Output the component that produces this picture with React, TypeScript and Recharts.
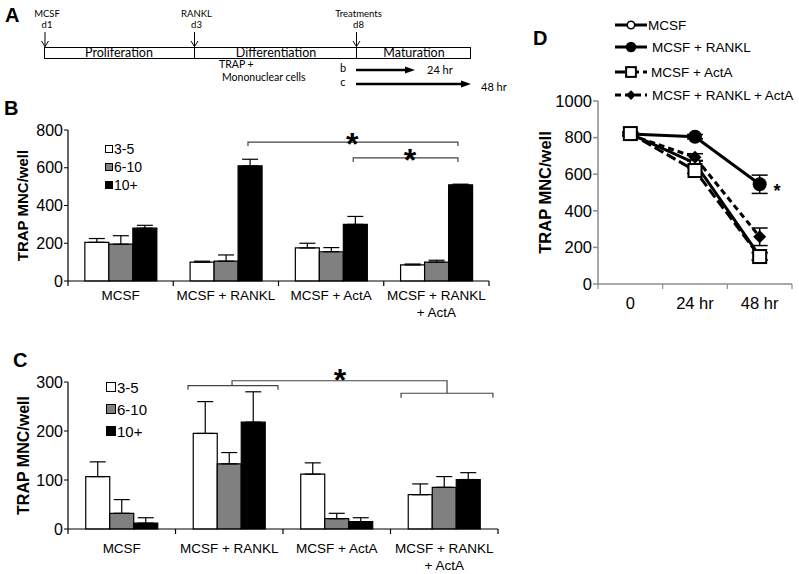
import React from "react";
import { Bar, BarChart, ErrorBar, Legend, Line, LineChart, XAxis, YAxis } from "recharts";

const ARIAL = "'Liberation Sans', Arial, Helvetica, sans-serif";
const CALIBRI = "Lato, 'Open Sans', sans-serif";

// shared by panels B and C
const treatments = ["MCSF", "MCSF + RANKL", "MCSF + ActA", "MCSF + RANKL\n+ ActA"];
const sizeBins = ["3-5", "6-10", "10+"];
const binFills = ["#ffffff", "#808080", "#000000"];

// panel B
const b35 = [205, 100, 175, 85];
const b610 = [195, 105, 155, 100];
const b10 = [280, 610, 300, 510];
const b35Err = [20, 5, 25, 5];
const b610Err = [45, 33, 22, 10];
const b10Err = [15, 35, 42, 3];
const bTicks = [0, 200, 400, 600, 800];

// panel C
const c35 = [107, 195, 112, 70];
const c610 = [32, 133, 21, 85];
const c10 = [12, 218, 15, 101];
const c35Err = [30, 65, 23, 22];
const c610Err = [28, 23, 11, 22];
const c10Err = [11, 62, 8, 14];
const cTicks = [0, 100, 200, 300];

// panel D
const timepoints = ["0", "24 hr", "48 hr"];
const dMcsf = [820, 660, 152];
const dRankl = [820, 805, 545];
const dActa = [822, 620, 150];
const dRanklActa = [815, 692, 258];
const dMcsfErr = [8, 15, 20];
const dRanklErr = [8, 12, 50];
const dActaErr = [8, 15, 20];
const dRanklActaErr = [8, 20, 48];
const dTicks = [0, 200, 400, 600, 800, 1000];

// significance marks: x in category units (0..n across the plot), y in data units
const bBrackets = [
  [[1.71, 715], [1.71, 736], [3.705, 736], [3.705, 715]],
  [[2.71, 630], [2.71, 652], [3.705, 652], [3.705, 630]],
];
const bStars = [[2.7, 765], [3.25, 680]];
const cBrackets = [
  [[1.116, 284], [1.116, 292.5], [1.953, 292.5], [1.953, 284]],
  [[3.098, 268], [3.098, 277], [3.953, 277], [3.953, 268]],
  [[1.526, 292.5], [1.526, 302.6], [3.526, 302.6], [3.526, 277]],
];
const cStars = [[2.53, 319]];
const dStars = [[2.77, 530]];

const groupRows = (a: number[], b: number[], c: number[], ae: number[], be: number[], ce: number[]) =>
  treatments.map((t, i) => ({
    t,
    s: a[i],
    m: b[i],
    l: c[i],
    sErr: [0, ae[i]],
    mErr: [0, be[i]],
    lErr: [0, ce[i]],
  }));

const bData = groupRows(b35, b610, b10, b35Err, b610Err, b10Err);
const cData = groupRows(c35, c610, c10, c35Err, c610Err, c10Err);

const dData = timepoints.map((t, i) => ({
  t,
  mcsf: dMcsf[i],
  rankl: dRankl[i],
  acta: dActa[i],
  ra: dRanklActa[i],
  mcsfE: dMcsfErr[i],
  ranklE: dRanklErr[i],
  actaE: dActaErr[i],
  raE: dRanklActaErr[i],
}));

const dSeries = [
  { key: "mcsf", err: "mcsfE", name: "MCSF", dash: undefined, marker: "circleOpen" },
  { key: "rankl", err: "ranklE", name: "MCSF + RANKL", dash: undefined, marker: "circleFilled" },
  { key: "acta", err: "actaE", name: "MCSF + ActA", dash: "10 4", marker: "squareOpen" },
  { key: "ra", err: "raE", name: "MCSF + RANKL + ActA", dash: "6 4", marker: "diamond" },
];
const dDrawOrder = ["mcsf", "rankl", "ra", "acta"];

// category label plus Excel-style tick marks on the category boundaries
function GroupTick(props: any) {
  const { x, y, payload, index, fs, lineGap, band, count, tickMargin, tickColor } = props;
  const axisY = y - tickMargin;
  const lines = String(payload.value).split("\n");
  return (
    <g>
      <line x1={x - band / 2} x2={x - band / 2} y1={axisY} y2={axisY + 5} stroke={tickColor} strokeWidth={1.2} />
      {index === count - 1 && (
        <line x1={x + band / 2} x2={x + band / 2} y1={axisY} y2={axisY + 5} stroke={tickColor} strokeWidth={1.2} />
      )}
      <text x={x} y={y} textAnchor="middle" fontFamily={ARIAL} fontSize={fs} fill="#000">
        {lines.map((ln, i) => (
          <tspan key={i} x={x} dy={i === 0 ? fs * 0.72 : lineGap}>
            {ln}
          </tspan>
        ))}
      </text>
    </g>
  );
}

function BinLegend({ box, rowH, fs }: { box: number; rowH: number; fs: number }) {
  return (
    <div style={{ fontFamily: ARIAL, fontSize: fs, color: "#000" }}>
      {sizeBins.map((label, i) => (
        <div key={label} style={{ display: "flex", alignItems: "center", height: rowH }}>
          <span
            style={{
              display: "inline-block",
              width: box,
              height: box,
              boxSizing: "border-box",
              border: "1px solid #000",
              background: binFills[i],
              marginRight: 1,
            }}
          />
          <span>{label}</span>
        </div>
      ))}
    </div>
  );
}

function Marker({ cx, cy, kind, k = 1 }: { cx: number; cy: number; kind: string; k?: number }) {
  if (cx == null || cy == null) return null;
  if (kind === "circleOpen")
    return <circle cx={cx} cy={cy} r={5 * k} fill="#fff" stroke="#000" strokeWidth={1.6} />;
  if (kind === "circleFilled") return <circle cx={cx} cy={cy} r={7 * k} fill="#000" />;
  if (kind === "squareOpen") {
    const h = 6.5 * k;
    return <rect x={cx - h} y={cy - h} width={h * 2} height={h * 2} fill="#fff" stroke="#000" strokeWidth={2} />;
  }
  const d = 6.5 * k;
  return <polygon points={`${cx},${cy - d} ${cx + d},${cy} ${cx},${cy + d} ${cx - d},${cy}`} fill="#000" />;
}

// overlay for brackets and asterisks, mapped from the chart's plot box and domain
function Annotations({ w, h, box, n, max, brackets, stars, starFs }: any) {
  const px = (v: number[]) => [box.x + (v[0] / n) * box.w, box.y + box.h - (v[1] / max) * box.h];
  return (
    <svg width={w} height={h} style={{ position: "absolute", left: 0, top: 0, pointerEvents: "none", overflow: "visible" }}>
      {brackets.map((p: number[][], i: number) => (
        <polyline
          key={i}
          points={p.map((v) => px(v).join(",")).join(" ")}
          fill="none"
          stroke="#444"
          strokeWidth={1.2}
        />
      ))}
      {stars.map((s: number[], i: number) => {
        const [cx, cy] = px(s);
        return (
          <text key={i} x={cx} y={cy + starFs * 0.58} textAnchor="middle" fontFamily={ARIAL} fontWeight="bold" fontSize={starFs} fill="#000">
            *
          </text>
        );
      })}
    </svg>
  );
}

function yLabel(fs: number, offset: number) {
  return {
    value: "TRAP MNC/well",
    angle: -90,
    position: "insideLeft" as const,
    offset,
    style: { textAnchor: "middle", fontWeight: "bold", fontSize: fs, fontFamily: ARIAL, fill: "#000" },
  };
}

function GroupedBars({ data, width, height, margin, domain, ticks, xAxisH, tickMargin, gap, labelFs, legend, brackets, stars }: any) {
  const yW = 68;
  const box = { x: margin.left + yW, y: margin.top, w: width - margin.left - yW - margin.right, h: height - margin.top - xAxisH };
  const band = box.w / treatments.length;
  return (
    <div style={{ position: "relative", width, height }}>
      <BarChart width={width} height={height} data={data} margin={margin} barGap={0} barCategoryGap={gap}>
        <XAxis
          dataKey="t"
          height={xAxisH}
          axisLine={{ stroke: "#000", strokeWidth: 1.2 }}
          tickLine={false}
          tickSize={0}
          tickMargin={tickMargin}
          interval={0}
          tick={(p: any) => (
            <GroupTick {...p} fs={13.5} lineGap={17.5} band={band} count={treatments.length} tickMargin={tickMargin} tickColor="#000" />
          )}
        />
        <YAxis
          domain={domain}
          ticks={ticks}
          interval={0}
          width={yW}
          tickSize={4}
          tickMargin={1}
          axisLine={{ stroke: "#000", strokeWidth: 1.2 }}
          tickLine={{ stroke: "#000" }}
          tick={{ fontSize: 16, fill: "#000", fontFamily: ARIAL }}
          label={yLabel(labelFs, 23)}
        />
        {["s", "m", "l"].map((k, i) => (
          <Bar key={k} dataKey={k} fill={binFills[i]} stroke="#000" strokeWidth={1.2} isAnimationActive={false}>
            <ErrorBar dataKey={`${k}Err`} width={8} stroke="#000" strokeWidth={1.2} direction="y" />
          </Bar>
        ))}
        <Legend
          layout="vertical"
          align="center"
          verticalAlign="middle"
          wrapperStyle={legend.style}
          content={() => <BinLegend box={legend.box} rowH={legend.rowH} fs={legend.fs} />}
        />
      </BarChart>
      <Annotations w={width} h={height} box={box} n={treatments.length} max={domain[1]} brackets={brackets} stars={stars} starFs={32} />
    </div>
  );
}

function SeriesLegend() {
  const rowY = [15, 37, 62, 85];
  const textX = [33, 37, 36, 37];
  return (
    <svg width={190} height={100} style={{ overflow: "visible" }}>
      {dSeries.map((s, i) => (
        <g key={s.key}>
          <line x1={0} x2={32} y1={rowY[i]} y2={rowY[i]} stroke="#000" strokeWidth={3} strokeDasharray={s.dash} />
          <Marker cx={16} cy={rowY[i]} kind={s.marker} k={0.75} />
          <text x={textX[i]} y={rowY[i] + 5} fontFamily={ARIAL} fontSize={13.5} fill="#000">
            {s.name}
          </text>
        </g>
      ))}
    </svg>
  );
}

function TimeCourse() {
  const width = 269;
  const height = 320;
  const margin = { top: 91, right: 7, bottom: 0, left: 0 };
  const yW = 68;
  const xAxisH = 46;
  const box = { x: margin.left + yW, y: margin.top, w: width - margin.left - yW - margin.right, h: height - margin.top - xAxisH };
  const band = box.w / timepoints.length;
  const pad = band / 2;
  return (
    <div style={{ position: "relative", width, height }}>
      <LineChart width={width} height={height} data={dData} margin={margin}>
        <XAxis
          dataKey="t"
          padding={{ left: pad, right: pad }}
          height={xAxisH}
          axisLine={{ stroke: "#8c8c8c", strokeWidth: 1.5 }}
          tickLine={false}
          tickSize={0}
          tickMargin={13}
          interval={0}
          tick={(p: any) => (
            <GroupTick {...p} fs={16.5} lineGap={18} band={band} count={timepoints.length} tickMargin={13} tickColor="#8c8c8c" />
          )}
        />
        <YAxis
          domain={[0, 1000]}
          ticks={dTicks}
          interval={0}
          width={yW}
          tickSize={5}
          tickMargin={1}
          axisLine={{ stroke: "#8c8c8c", strokeWidth: 1.5 }}
          tickLine={{ stroke: "#8c8c8c", strokeWidth: 1.5 }}
          tick={{ fontSize: 16.5, fill: "#000", fontFamily: ARIAL }}
          label={yLabel(16.5, 15)}
        />
        {dDrawOrder.map((key) => {
          const s = dSeries.find((x) => x.key === key)!;
          return (
            <Line
              key={s.key}
              dataKey={s.key}
              name={s.name}
              stroke="#000"
              strokeWidth={3}
              strokeDasharray={s.dash}
              isAnimationActive={false}
              dot={(p: any) => <Marker key={`${s.key}-${p.index}`} cx={p.cx} cy={p.cy} kind={s.marker} />}
              activeDot={false}
            >
              <ErrorBar dataKey={s.err} width={8} stroke="#000" strokeWidth={1.5} direction="y" />
            </Line>
          );
        })}
        <Legend
          layout="vertical"
          align="center"
          verticalAlign="middle"
          wrapperStyle={{ top: 0, left: 85, width: 190, height: 100 }}
          content={() => <SeriesLegend />}
        />
      </LineChart>
      <Annotations w={width} h={height} box={box} n={timepoints.length} max={1000} brackets={[]} stars={dStars} starFs={18} />
    </div>
  );
}

function PanelA() {
  const stage = [
    { x: 45, top: "MCSF", day: "d1" },
    { x: 194.5, top: "RANKL", day: "d3" },
    { x: 356.5, top: "Treatments", day: "d8" },
  ];
  return (
    <g fontFamily={CALIBRI} fill="#000">
      {stage.map((s) => (
        <g key={s.top}>
          <text x={s.x + 2} y={17} fontSize={9.5} textAnchor="middle">{s.top}</text>
          <text x={s.x + 2} y={28} fontSize={9.5} textAnchor="middle">{s.day}</text>
          <line x1={s.x} x2={s.x} y1={32} y2={47} stroke="#000" strokeWidth={1} />
          <polyline points={`${s.x - 3.5},41 ${s.x},46.5 ${s.x + 3.5},41`} fill="none" stroke="#000" strokeWidth={1} />
        </g>
      ))}
      <rect x={44.5} y={47.5} width={426} height={11} fill="none" stroke="#000" strokeWidth={1} />
      <line x1={194.5} x2={194.5} y1={47.5} y2={58.5} stroke="#000" />
      <line x1={356.5} x2={356.5} y1={47.5} y2={58.5} stroke="#000" />
      <text x={119} y={57} fontSize={12.5} textAnchor="middle">Proliferation</text>
      <text x={276} y={57} fontSize={12.5} textAnchor="middle">Differentiation</text>
      <text x={414} y={57} fontSize={12.5} textAnchor="middle">Maturation</text>
      <text x={219} y={68} fontSize={10.5}>TRAP +</text>
      <text x={222} y={81} fontSize={10.5}>Mononuclear cells</text>
      <text x={343} y={72} fontSize={11} textAnchor="middle">b</text>
      <text x={343} y={86} fontSize={11} textAnchor="middle">c</text>
      <line x1={356} x2={407} y1={70} y2={70} stroke="#000" strokeWidth={2.5} />
      <polygon points="405,66.5 415,70 405,73.5" fill="#000" />
      <line x1={356} x2={463} y1={84} y2={84} stroke="#000" strokeWidth={2.5} />
      <polygon points="461,80.5 471,84 461,87.5" fill="#000" />
      <text x={427} y={74} fontSize={11}>24 hr</text>
      <text x={481} y={91} fontSize={11}>48 hr</text>
    </g>
  );
}

export default function App() {
  const letter = { fontFamily: ARIAL, fontWeight: "bold" as const, fontSize: 20, fill: "#000" };
  return (
    <div style={{ position: "absolute", left: 0, top: 0, width: 799, height: 574, background: "#fff", overflow: "hidden" }}>
      <svg width={799} height={574} style={{ position: "absolute", left: 0, top: 0 }}>
        <text x={5} y={22} {...letter}>A</text>
        <text x={4} y={115} {...letter}>B</text>
        <text x={13} y={367} {...letter}>C</text>
        <text x={533} y={45} {...letter}>D</text>
        <PanelA />
      </svg>

      <div style={{ position: "absolute", left: 0, top: 90 }}>
        <GroupedBars
          data={bData}
          width={500}
          height={240}
          margin={{ top: 40, right: 11, bottom: 0, left: 0 }}
          domain={[0, 800]}
          ticks={bTicks}
          xAxisH={49}
          tickMargin={9}
          gap="16%"
          labelFs={15}
          legend={{ style: { top: 50, left: 105, width: 60, height: 56 }, box: 8, rowH: 18, fs: 14 }}
          brackets={bBrackets}
          stars={bStars}
        />
      </div>

      <div style={{ position: "absolute", left: 0, top: 340 }}>
        <GroupedBars
          data={cData}
          width={510}
          height={234}
          margin={{ top: 42, right: 12, bottom: 0, left: 0 }}
          domain={[0, 300]}
          ticks={cTicks}
          xAxisH={45}
          tickMargin={14}
          gap="16.5%"
          labelFs={16}
          legend={{ style: { top: 36, left: 106, width: 60, height: 66 }, box: 10, rowH: 22, fs: 15 }}
          brackets={cBrackets}
          stars={cStars}
        />
      </div>

      <div style={{ position: "absolute", left: 530, top: 10 }}>
        <TimeCourse />
      </div>
    </div>
  );
}
